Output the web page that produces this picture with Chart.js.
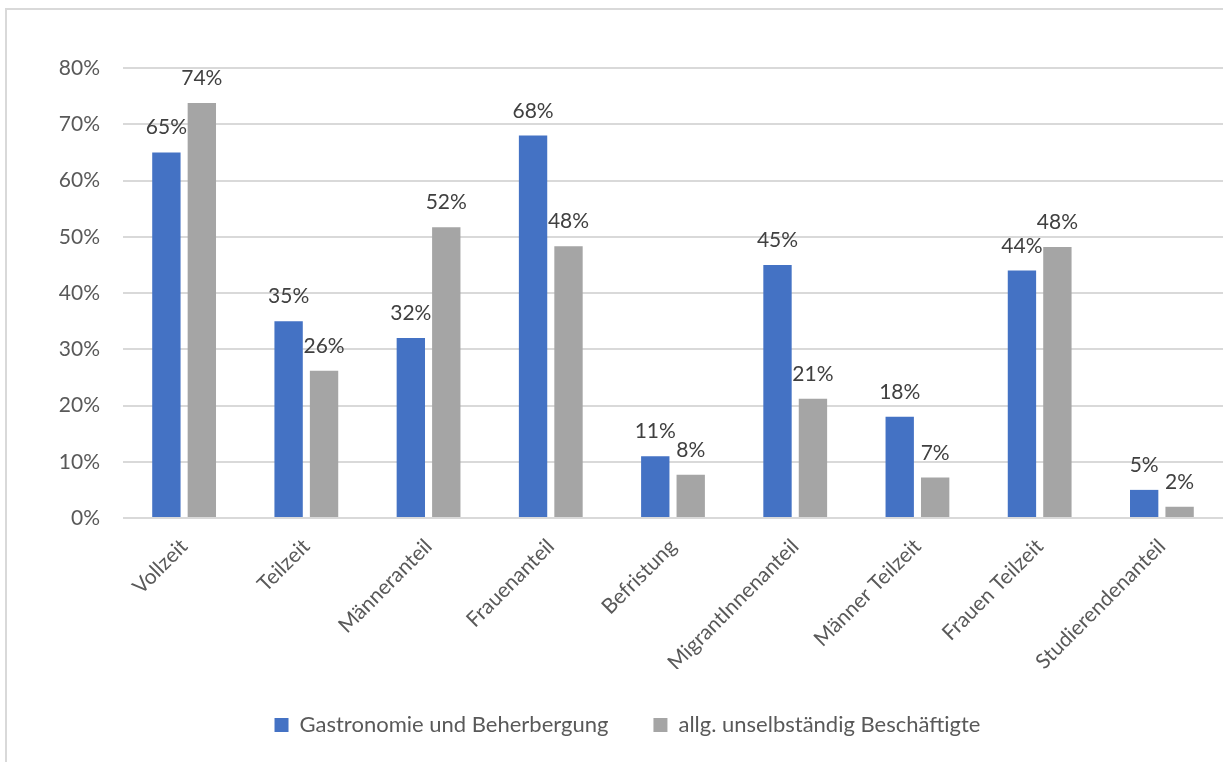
<!DOCTYPE html>
<html>
<head>
<meta charset="utf-8">
<script src="https://cdn.jsdelivr.net/npm/chart.js@4/dist/chart.umd.min.js"></script>
<style>
  html, body { margin: 0; padding: 0; background: #fff; overflow: hidden; }
  #frame { position: absolute; left: 5px; top: 8px; width: 1240px; height: 800px; border: 2px solid #d9d9d9; }
  #chart { position: absolute; left: 0; top: 0; }
</style>
</head>
<body>
<div id="frame"></div>
<canvas id="chart" width="1223" height="762"></canvas>
<script>
const categories = ['Vollzeit', 'Teilzeit', 'Männeranteil', 'Frauenanteil', 'Befristung',
  'MigrantInnenanteil', 'Männer Teilzeit', 'Frauen Teilzeit', 'Studierendenanteil'];
const gastro = [65, 35, 32, 68, 11, 45, 18, 44, 5];
const allg = [73.8, 26.2, 51.7, 48.3, 7.7, 21.2, 7.2, 48.2, 2];
const seriesNames = ['Gastronomie und Beherbergung', 'allg. unselbständig Beschäftigte'];

const fontFamily = "Lato, 'Open Sans', sans-serif";

// value labels above the bars
const barLabels = {
  id: 'barLabels',
  afterDatasetsDraw(chart) {
    const ctx = chart.ctx;
    ctx.save();
    ctx.font = '21px ' + fontFamily;
    ctx.fillStyle = '#404040';
    ctx.textAlign = 'center';
    ctx.textBaseline = 'alphabetic';
    chart.data.datasets.forEach((ds, i) => {
      chart.getDatasetMeta(i).data.forEach((bar, j) => {
        ctx.fillText(Math.round(ds.data[j]) + '%', bar.x, bar.y - 18);
      });
    });
    ctx.restore();
  }
};

// nudge the legend to where it sits in the original
const legendShift = {
  id: 'legendShift',
  afterLayout(chart) {
    chart.legend.left -= 4;
    chart.legend.right -= 4;
  }
};

new Chart(document.getElementById('chart'), {
  type: 'bar',
  data: {
    labels: categories,
    datasets: [{
      label: seriesNames[0],
      data: gastro,
      backgroundColor: '#4472c4',
      categoryPercentage: 0.58,
      barPercentage: 0.8
    }, {
      label: seriesNames[1],
      data: allg,
      backgroundColor: '#a5a5a5',
      categoryPercentage: 0.58,
      barPercentage: 0.8
    }]
  },
  options: {
    responsive: false,
    animation: false,
    layout: { padding: { left: 40, right: 0, top: 68, bottom: 16 } },
    plugins: {
      legend: {
        position: 'bottom',
        labels: {
          boxWidth: 14,
          boxHeight: 14,
          padding: 45,
          color: '#595959',
          font: { family: fontFamily, size: 22 }
        }
      },
      tooltip: { enabled: false }
    },
    scales: {
      x: {
        grid: { display: false },
        border: { display: false },
        ticks: {
          minRotation: 45,
          maxRotation: 45,
          color: '#595959',
          padding: 8,
          font: { family: fontFamily, size: 21 }
        },
        afterFit(scale) { scale.height = 151; }
      },
      y: {
        min: 0,
        max: 80,
        ticks: {
          stepSize: 10,
          padding: 23,
          color: '#595959',
          font: { family: fontFamily, size: 21 },
          callback: v => v + '%'
        },
        grid: { color: '#d9d9d9', lineWidth: 2, drawTicks: false },
        border: { display: false },
        afterFit(scale) { scale.width = 83; }
      }
    }
  },
  plugins: [barLabels, legendShift]
});
</script>
</body>
</html>
